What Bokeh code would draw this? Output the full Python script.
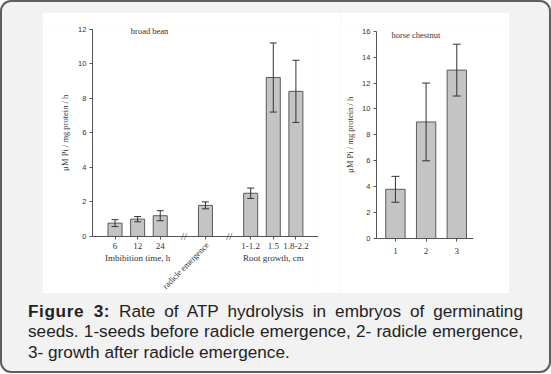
import math
from bokeh.plotting import figure
from bokeh.layouts import column, row
from bokeh.models import (ColumnDataSource, Whisker, TeeHead, Label, Range1d,
                          FixedTicker, Div, Spacer)
from bokeh.embed import file_html
from bokeh.resources import INLINE

# ---------------- data ----------------
bb_groups = [["6", "12", "24"], ["radicle emergence"], ["1-1.2", "1.5", "1.8-2.2"]]
bb_group_titles = ["Imbibition time, h", "", "Root growth, cm"]
bb_means = [0.77, 1.0, 1.2, 1.8, 2.5, 9.2, 8.4]
bb_errors = [0.2, 0.15, 0.29, 0.2, 0.3, 2.0, 1.8]
bb_yticks = [0, 2, 4, 6, 8, 10, 12]
bb_title = "broad bean"

hc_categories = ["1", "2", "3"]
hc_means = [3.8, 9.0, 13.0]
hc_errors = [1.0, 3.0, 2.0]
hc_yticks = [0, 2, 4, 6, 8, 10, 12, 14, 16]
hc_title = "horse chestnut"

y_label = "µM Pi / mg protein / h"
caption_bold = "Figure 3:"
caption_text = ("Rate of ATP hydrolysis in embryos of germinating seeds. "
                "1-seeds before radicle emergence, 2- radicle emergence, "
                "3- growth after radicle emergence.")

SERIF = "Liberation Serif"
SANS = "Liberation Sans"
BAR_FILL = "#c4c4c4"
BAR_LINE = "#5a5a5a"
AX = "#555555"
TXT = "#333333"

# positions of broad bean bars, with a gap between groups
bb_labels, bb_x, bb_breaks, bb_group_centers = [], [], [], []
pos = 0
for gi, g in enumerate(bb_groups):
    if gi > 0:
        pos += 1
        bb_breaks.append(pos + 0.05)
    xs = []
    for lab in g:
        pos += 1
        bb_labels.append(lab)
        bb_x.append(pos)
        xs.append(pos)
    bb_group_centers.append(sum(xs) / len(xs))


def style_axes(p, x0, x_bounds, y_bounds, ymid, label_offset):
    p.background_fill_color = "white"
    p.border_fill_color = "white"
    p.outline_line_color = None
    p.grid.visible = False
    for ax in p.axis:
        ax.axis_line_color = AX
        ax.axis_line_width = 1
        ax.major_tick_line_color = AX
        ax.minor_tick_line_color = None
        ax.major_tick_out = 3
        ax.major_tick_in = 0
        ax.major_label_text_color = TXT
    p.yaxis.major_label_text_font = SANS
    p.yaxis.major_label_text_font_size = "7.5px"
    p.yaxis.major_label_standoff = 3
    p.xaxis.major_label_text_font = SERIF
    p.xaxis.major_label_text_font_size = "9px"
    # axes drawn inside the frame so that every text around them stays visible
    p.xaxis.fixed_location = 0
    p.yaxis.fixed_location = x0
    p.xaxis.bounds = x_bounds
    p.yaxis.bounds = y_bounds
    p.add_layout(Label(x=x0, y=ymid, x_offset=label_offset, text=y_label,
                       angle=math.pi / 2, text_align="center", text_baseline="middle",
                       text_font=SERIF, text_font_size="8.5px", text_color=TXT))


def add_errors(p, src, size):
    p.add_layout(Whisker(source=src, base="x", upper="upper", lower="lower",
                         line_color="#333333", line_width=1, level="overlay",
                         upper_head=TeeHead(size=size, line_color="#333333", line_width=1),
                         lower_head=TeeHead(size=size, line_color="#333333", line_width=1)))


# ---------------- broad bean ----------------
src1 = ColumnDataSource(dict(
    x=bb_x, top=bb_means,
    upper=[m + e for m, e in zip(bb_means, bb_errors)],
    lower=[m - e for m, e in zip(bb_means, bb_errors)]))

p1 = figure(width=298, height=281, x_range=Range1d(-2.075, 10), y_range=Range1d(-3.13, 12.27),
            output_backend="svg", toolbar_location=None,
            min_border_left=3, min_border_right=22, min_border_top=12, min_border_bottom=3)
p1.vbar(x="x", top="top", width=0.62, source=src1, fill_color=BAR_FILL,
        line_color=BAR_LINE, line_width=1)
add_errors(p1, src1, 7)
style_axes(p1, 0, (0, 10), (0, 12), 6, -27)
p1.yaxis.ticker = FixedTicker(ticks=bb_yticks)
p1.xaxis.ticker = FixedTicker(ticks=bb_x)
p1.xaxis.major_label_overrides = {x: ("" if lab == "radicle emergence" else lab)
                                  for x, lab in zip(bb_x, bb_labels)}
p1.xaxis.major_label_standoff = 4

for xc, t in zip(bb_group_centers, bb_group_titles):
    if t:
        p1.add_layout(Label(x=xc, y=0, y_offset=-22, text=t, text_align="center",
                            text_baseline="middle", text_font=SERIF,
                            text_font_size="9px", text_color=TXT))
for x, lab in zip(bb_x, bb_labels):
    if lab == "radicle emergence":
        p1.add_layout(Label(x=x, y=0, x_offset=2, y_offset=-7, text=lab, angle=0.79,
                            text_align="right", text_baseline="middle", text_font=SERIF,
                            text_font_size="8.5px", text_color=TXT))
for bx in bb_breaks:
    p1.add_layout(Label(x=bx, y=0, text="//", text_align="center", text_baseline="middle",
                        text_font=SERIF, text_font_size="11px", text_color="#444444"))
p1.add_layout(Label(x=1.7, y=11.87, text=bb_title, text_align="left",
                    text_baseline="middle", text_font=SERIF, text_font_size="8.5px",
                    text_color=TXT))

# ---------------- horse chestnut ----------------
hc_x = list(range(1, len(hc_categories) + 1))
src2 = ColumnDataSource(dict(
    x=hc_x, top=hc_means,
    upper=[m + e for m, e in zip(hc_means, hc_errors)],
    lower=[m - e for m, e in zip(hc_means, hc_errors)]))

p2 = figure(width=169, height=281, x_range=Range1d(-0.79, 4.62), y_range=Range1d(-4.01, 16.52),
            output_backend="svg", toolbar_location=None,
            min_border_left=0, min_border_right=3, min_border_top=12, min_border_bottom=3)
p2.vbar(x="x", top="top", width=0.63, source=src2, fill_color=BAR_FILL,
        line_color=BAR_LINE, line_width=1)
add_errors(p2, src2, 8)
style_axes(p2, 0.38, (0.38, 3.53), (0, 16), 8, -26.5)
p2.yaxis.ticker = FixedTicker(ticks=hc_yticks)
p2.xaxis.ticker = FixedTicker(ticks=hc_x)
p2.xaxis.major_label_overrides = {x: lab for x, lab in zip(hc_x, hc_categories)}
p2.xaxis.major_label_standoff = 6
p2.add_layout(Label(x=0.87, y=15.7, text=hc_title, text_align="left",
                    text_baseline="middle", text_font=SERIF, text_font_size="8.5px",
                    text_color=TXT))

# ---------------- caption & frame ----------------
caption = Div(text=f'<b style="letter-spacing:0.6px">{caption_bold}</b> {caption_text}',
              width=495, height=62, margin=(0, 0, 0, 0),
              styles={"font-family": "'Liberation Sans', Arial, sans-serif",
                      "font-size": "17.2px", "line-height": "20.4px",
                      "text-align": "justify", "color": "#222222"})

layout = column(
    Spacer(height=12),
    row(Spacer(width=42), p1, p2),
    Spacer(height=8),
    row(Spacer(width=28), caption),
    width=551, height=373,
    styles={"background-color": "#f2f2f2", "border-radius": "11px",
            "box-shadow": "inset 0 0 0 2px #5e5e5e"})

open("out.html", "w").write(file_html(layout, INLINE))
